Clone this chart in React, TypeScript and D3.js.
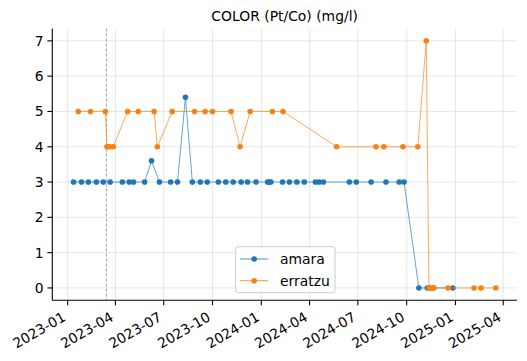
import * as d3 from 'd3';

const W = 527;
const H = 361;

const chartTitle = 'COLOR (Pt/Co) (mg/l)';
const seriesNames = ['amara', 'erratzu'];
const seriesColors = ['#1f77b4', '#ff7f0e'];
const yTicks = [0, 1, 2, 3, 4, 5, 6, 7];
const markerDate = '2023-03-15';

const amaraDates = [
  '2023-01-12', '2023-01-27', '2023-02-09', '2023-02-24', '2023-03-09', '2023-03-22',
  '2023-04-14', '2023-04-27', '2023-05-05', '2023-05-26', '2023-06-08', '2023-06-23',
  '2023-07-14', '2023-07-27', '2023-08-11', '2023-08-24', '2023-09-08', '2023-09-21',
  '2023-10-12', '2023-10-26', '2023-11-09', '2023-11-24', '2023-12-06', '2023-12-22',
  '2024-01-13', '2024-01-16', '2024-01-19', '2024-02-10', '2024-02-23', '2024-03-08',
  '2024-03-22', '2024-04-12', '2024-04-19', '2024-04-27', '2024-06-15', '2024-06-28',
  '2024-07-26', '2024-08-23', '2024-09-17', '2024-09-26', '2024-10-24', '2024-11-09',
  '2024-11-14', '2024-11-21', '2024-12-27',
];
const amaraValues = [
  3, 3, 3, 3, 3, 3,
  3, 3, 3, 3, 3.6, 3,
  3, 3, 5.4, 3, 3, 3,
  3, 3, 3, 3, 3, 3,
  3, 3, 3, 3, 3, 3,
  3, 3, 3, 3, 3, 3,
  3, 3, 3, 3, 0, 0,
  0, 0, 0,
];

const erratzuDates = [
  '2023-01-21', '2023-02-13', '2023-03-13', '2023-03-16', '2023-03-21', '2023-03-28',
  '2023-04-24', '2023-05-14', '2023-06-13', '2023-06-19', '2023-07-17', '2023-08-28',
  '2023-09-17', '2023-10-01', '2023-11-05', '2023-11-22', '2023-12-11', '2024-01-22',
  '2024-02-11', '2024-05-22', '2024-08-04', '2024-08-19', '2024-09-24', '2024-10-22',
  '2024-11-07', '2024-11-12', '2024-11-16', '2024-11-21', '2024-12-18', '2025-02-05',
  '2025-02-18', '2025-03-18',
];
const erratzuValues = [
  5, 5, 5, 4, 4, 4,
  5, 5, 5, 4, 5, 5,
  5, 5, 5, 4, 5, 5,
  5, 4, 4, 4, 4, 4,
  7, 0, 0, 0, 0, 0,
  0, 0,
];

const parse = d3.timeParse('%Y-%m-%d');
const fmt = d3.timeFormat('%Y-%m');

type Pt = { date: Date; value: number };
const amara: Pt[] = amaraDates.map((d, i) => ({ date: parse(d)!, value: amaraValues[i] }));
const erratzu: Pt[] = erratzuDates.map((d, i) => ({ date: parse(d)!, value: erratzuValues[i] }));
const allSeries = [amara, erratzu];

export default function App() {
  const left = 52.3, right = 517, top = 28.5, bottom = 300.3;
  const fs = 13.9;

  const x = d3.scaleTime()
    .domain([parse('2022-12-03')!, parse('2025-04-27')!])
    .range([left, right]);
  const y = d3.scaleLinear().domain([-0.35, 7.35]).range([bottom, top]);

  const xTicks = x.ticks(d3.timeMonth.every(3)!);

  const line = d3.line<Pt>().x(d => x(d.date)).y(d => y(d.value));

  const font = 'DejaVu Sans, sans-serif';

  return (
    <svg width={W} height={H} style={{ position: 'absolute', left: 0, top: 0, background: '#fff' }}
      fontFamily={font}>
      <text x={(left + right) / 2} y={20.7} textAnchor="middle" fontSize={fs} fill="#000">{chartTitle}</text>

      {/* grid */}
      <g stroke="#b0b0b0" strokeOpacity={0.3} strokeWidth={1}>
        {xTicks.map((t, i) => (
          <line key={'gx' + i} x1={x(t)} x2={x(t)} y1={top} y2={bottom} />
        ))}
        {yTicks.map(t => (
          <line key={'gy' + t} x1={left} x2={right} y1={y(t)} y2={y(t)} />
        ))}
      </g>

      {/* reference date */}
      <line x1={x(parse(markerDate)!)} x2={x(parse(markerDate)!)} y1={top} y2={bottom}
        stroke="#888" strokeWidth={0.8} strokeDasharray="3,2" />

      {/* series */}
      {allSeries.map((s, i) => (
        <g key={'s' + i}>
          <path d={line(s) ?? ''} fill="none" stroke={seriesColors[i]} strokeWidth={0.8} strokeOpacity={0.85} />
          {s.map((p, j) => (
            <circle key={j} cx={x(p.date)} cy={y(p.value)} r={2.8} fill={seriesColors[i]} />
          ))}
        </g>
      ))}

      {/* axes */}
      <line x1={left} x2={left} y1={top} y2={bottom} stroke="#000" strokeWidth={1.1} />
      <line x1={left} x2={right} y1={bottom} y2={bottom} stroke="#000" strokeWidth={1.1} />
      {yTicks.map(t => (
        <g key={'yt' + t}>
          <line x1={left - 4.9} x2={left} y1={y(t)} y2={y(t)} stroke="#000" strokeWidth={1.1} />
          <text x={left - 8.6} y={y(t)} dy="0.36em" textAnchor="end" fontSize={fs} fill="#000">{t}</text>
        </g>
      ))}
      {xTicks.map((t, i) => (
        <g key={'xt' + i}>
          <line x1={x(t)} x2={x(t)} y1={bottom} y2={bottom + 4.9} stroke="#000" strokeWidth={1.1} />
          <text transform={`translate(${x(t) - 1},${bottom + 19.5}) rotate(-30)`} textAnchor="end"
            fontSize={fs} fill="#000">{fmt(t)}</text>
        </g>
      ))}

      {/* legend */}
      <g>
        <rect x={235.7} y={246.7} width={99.3} height={46} rx={2.5} fill="#fff" fillOpacity={0.8}
          stroke="#cccccc" strokeWidth={1} />
        {seriesNames.map((n, i) => {
          const ly = 259 + i * 21.7;
          return (
            <g key={n}>
              <line x1={240} x2={268.3} y1={ly} y2={ly} stroke={seriesColors[i]} strokeWidth={0.8} />
              <circle cx={254.2} cy={ly} r={2.8} fill={seriesColors[i]} />
              <text x={280} y={ly} dy="0.36em" fontSize={fs} fill="#000">{n}</text>
            </g>
          );
        })}
      </g>
    </svg>
  );
}
